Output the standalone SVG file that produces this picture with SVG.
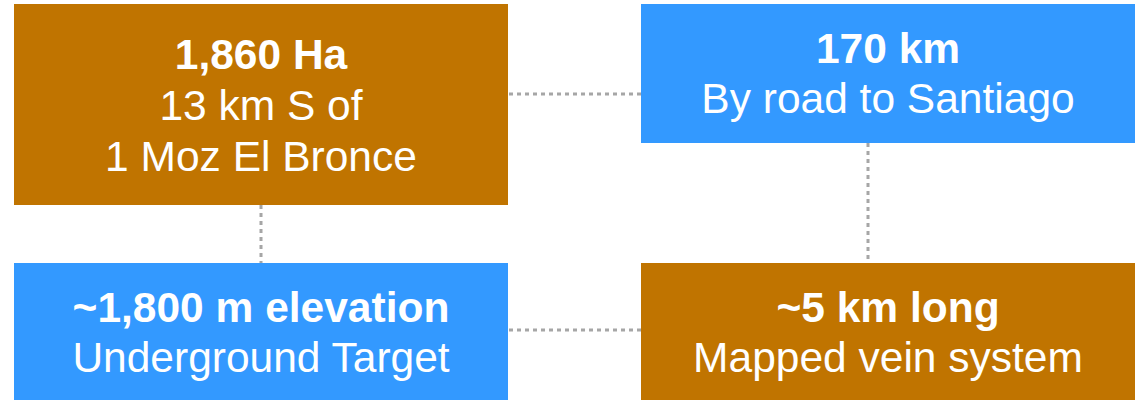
<svg xmlns="http://www.w3.org/2000/svg" width="1135" height="400" viewBox="0 0 1135 400">
<style>
.brown{fill:#C07400}
.blue{fill:#3399FF}
text{font-family:"Liberation Sans",Arial,sans-serif;font-size:42.5px;fill:#FFFFFF;text-anchor:middle}
.b{font-weight:bold}
.conn{stroke:#A6A6A6;stroke-width:3;stroke-dasharray:4 4;fill:none}
</style>
<rect width="1135" height="400" fill="#FFFFFF"/>
<g id="connectors">
<line class="conn" x1="509" y1="94" x2="641" y2="94"/>
<line class="conn" x1="261" y1="205" x2="261" y2="263"/>
<line class="conn" x1="868" y1="143" x2="868" y2="263"/>
<line class="conn" x1="509" y1="330" x2="641" y2="330"/>
</g>
<g id="node1">
<rect class="brown" x="14" y="4" width="494" height="201"/>
<text class="b" x="261" y="69">1,860 Ha</text>
<text x="261" y="120">13 km S of</text>
<text x="261" y="171">1 Moz El Bronce</text>
</g>
<g id="node2">
<rect class="blue" x="641" y="4" width="494" height="139"/>
<text class="b" x="888" y="63">170 km</text>
<text x="888" y="113">By road to Santiago</text>
</g>
<g id="node3">
<rect class="blue" x="14" y="263" width="494" height="137"/>
<text class="b" x="261" y="322">~1,800 m elevation</text>
<text x="261" y="372">Underground Target</text>
</g>
<g id="node4">
<rect class="brown" x="641" y="263" width="494" height="137"/>
<text class="b" x="888" y="322">~5 km long</text>
<text x="888" y="372">Mapped vein system</text>
</g>
</svg>
